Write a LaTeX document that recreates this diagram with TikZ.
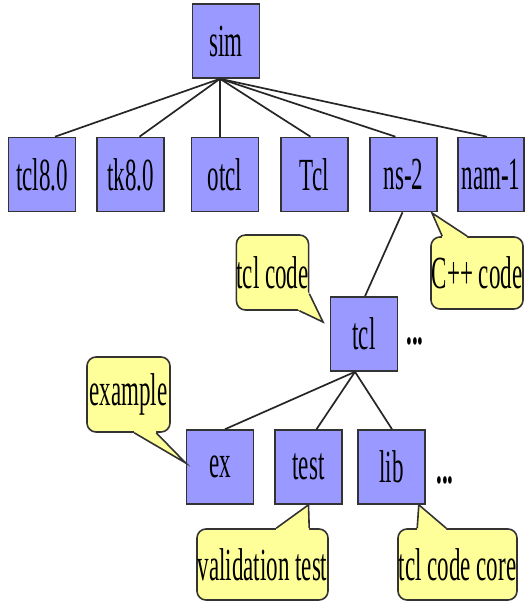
\documentclass[tikz,border=0pt]{standalone}
\usepackage{fontspec}
\setmainfont{Liberation Serif}[FakeStretch=0.5]
\usetikzlibrary{calc}
\definecolor{boxblue}{HTML}{9999FF}
\definecolor{noteyellow}{HTML}{FFFF99}
\definecolor{edge}{HTML}{333333}

% tail of a speech note: base point a, tip, base point b, inward shift
\newcommand\notetail[4]{%
  \fill[noteyellow] ($#1+#4$) -- #1 -- #2 -- #3 -- ($#3+#4$) -- cycle;
  \draw[tailline] #1 -- #2 -- #3;}

\begin{document}
\begin{tikzpicture}[x=1pt,y=-1pt,
  dirbox/.style={draw=edge, line width=1.6pt, fill=boxblue,
    minimum width=67pt, minimum height=74pt, inner sep=0pt,
    font=\fontsize{46}{50}\selectfont},
  notebox/.style={draw=edge, line width=1.6pt, fill=noteyellow,
    rounded corners=9pt, inner sep=0pt, minimum height=72pt,
    font=\fontsize{46}{50}\selectfont},
  tailline/.style={draw=edge, line width=1.6pt, line join=miter},
  link/.style={draw=black!85, line width=1.7pt},
  more/.style={font=\fontsize{46}{50}\selectfont\bfseries, inner sep=0pt}]
\useasboundingbox (0,0) rectangle (525,604);

% directory boxes
\node[dirbox] (sim) at (226,41) {sim};
\node[dirbox] (tcleight) at (42,174.5) {tcl8.0};
\node[dirbox] (tkeight) at (130.5,174.5) {tk8.0};
\node[dirbox] (otcl) at (225,174.5) {otcl};
\node[dirbox] (Tcl) at (314.5,174.5) {Tcl};
\node[dirbox] (ns) at (403.5,174.5) {ns-2};
\node[dirbox, minimum width=66pt] (nam) at (491,174.5) {nam-1};
\node[dirbox] (tcl) at (364,334) {tcl};
\node[dirbox] (ex) at (220,467) {ex};
\node[dirbox] (test) at (308.5,467) {test};
\node[dirbox] (lib) at (391.5,467) {lib};

% continuation marks
\node[more] (moreA) at (415,341) {...};
\node[more] (moreB) at (445,480) {...};

% tree edges
\coordinate (hubA) at ($(sim.south)+(-6,0)$);
\draw[link] (hubA) -- ($(tcleight.north)+(13,0)$);
\draw[link] (hubA) -- ($(tkeight.north)+(9,0)$);
\draw[link] (hubA) -- ($(otcl.north)+(-5,0)$);
\draw[link] (hubA) -- ($(Tcl.north)+(-4,0)$);
\draw[link] (hubA) -- ($(ns.north)+(-8,0)$);
\draw[link] (hubA) -- ($(nam.north)+(-4,0)$);
\draw[link] ($(ns.south)+(-1,0)$) -- ($(tcl.north)+(1,0)$);
\coordinate (hubB) at ($(tcl.south)+(-9,0)$);
\draw[link] (hubB) -- ($(ex.north)+(5,0)$);
\draw[link] (hubB) -- ($(test.north)+(8,0)$);
\draw[link] (hubB) -- ($(lib.north)+(0.5,0)$);

% speech notes
\node[notebox, minimum width=71pt, minimum height=75pt] (ntclcode) at (272.5,272.5) {tcl code};
\notetail{($(ntclcode.south east)+(0,-17)$)}{(323,322)}{($(ntclcode.south east)+(-10,0)$)}{(-3,-3)}

\node[notebox, minimum width=92pt] (ncpp) at (477,273) {C++ code};
\notetail{($(ncpp.north west)+(12,0)$)}{(432,213)}{($(ncpp.north west)+(37,0)$)}{(0,3)}

\node[notebox, minimum width=83pt, minimum height=75pt] (nexample) at (128.5,394.5) {example};
\notetail{($(nexample.south west)+(48,0)$)}{($(ex.west)+(0,-4)$)}{($(nexample.south west)+(70,0)$)}{(0,-3)}

\node[notebox, minimum width=131pt, minimum height=71pt] (nvalid) at (262.5,564.5) {validation test};
\notetail{($(nvalid.north west)+(80,0)$)}{($(test.south)+(0,0)$)}{($(nvalid.north west)+(113,0)$)}{(0,3)}

\node[notebox, minimum width=119pt, minimum height=71pt] (ncore) at (457.5,564.5) {tcl code core};
\notetail{($(ncore.north west)+(20,0)$)}{($(lib.south east)+(-7,0)$)}{($(ncore.north west)+(49,0)$)}{(0,3)}
\end{tikzpicture}
\end{document}
